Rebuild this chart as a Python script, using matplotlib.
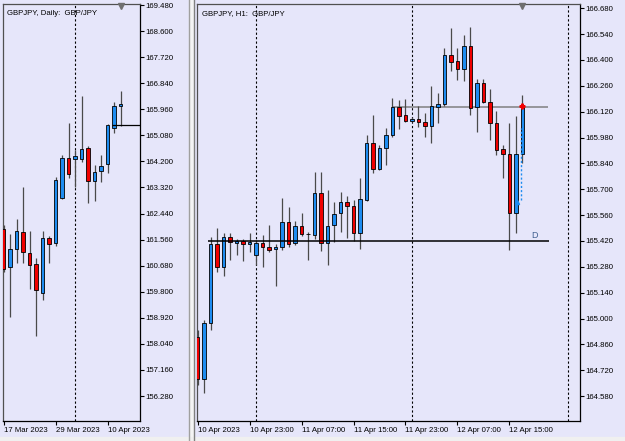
import numpy as np
import matplotlib.pyplot as plt
import matplotlib.transforms as mtransforms
from matplotlib.patches import Rectangle
from matplotlib.lines import Line2D

plt.rcParams['font.family'] = ['Liberation Sans', 'DejaVu Sans']

W, H = 625, 441
BG = "#E6E6FA"
BLUE = "#1E8CF0"
RED = "#F00000"

# GBPJPY daily, 17 Mar 2023 .. 12 Apr 2023
d_open = [161.93, 160.65, 161.25, 161.83, 161.12, 160.75, 159.77, 161.62, 161.46, 162.97,
          164.32, 164.29, 164.29, 164.66, 163.55, 163.88, 164.12, 165.33, 166.07]
d_high = [162.06, 161.76, 162.26, 163.34, 161.86, 160.95, 161.86, 161.69, 163.68, 164.42,
          165.50, 164.59, 166.41, 164.73, 164.08, 164.42, 165.47, 166.21, 166.58]
d_low = [160.48, 158.96, 160.78, 160.78, 159.90, 158.29, 159.53, 160.78, 161.35, 162.93,
         163.65, 163.34, 164.19, 162.80, 162.87, 163.51, 163.80, 165.16, 165.40]
d_close = [160.58, 161.25, 161.86, 161.15, 160.71, 159.87, 161.62, 161.42, 163.58, 164.32,
           163.78, 164.39, 164.62, 163.55, 163.85, 164.05, 165.43, 166.07, 166.13]
d_xticks = [0, 8, 16]
d_xlabels = ["17 Mar 2023", "29 Mar 2023", "10 Apr 2023"]
d_yticks = [156.28, 157.16, 158.04, 158.92, 159.80, 160.68, 161.56, 162.44,
            163.32, 164.20, 165.08, 165.96, 166.84, 167.72, 168.60, 169.48]
d_separator = 11          # 1 Apr month line
d_level = 165.42

# GBPJPY H1, 10 Apr 15:00 .. 12 Apr 17:00
h_open = [164.898, 164.670, 164.974, 165.402, 165.277, 165.440, 165.409, 165.419, 165.402, 165.344,
          165.407, 165.389, 165.375, 165.389, 165.521, 165.407, 165.502, 165.456, 165.454, 165.678,
          165.410, 165.506, 165.570, 165.629, 165.609, 165.464, 165.642, 165.949, 165.808, 165.922,
          165.994, 166.144, 166.102, 166.071, 166.080, 166.066, 166.044, 166.147, 166.160, 166.427,
          166.395, 166.350, 166.477, 166.144, 166.274, 166.174, 166.057, 165.916, 165.891, 165.573,
          165.891]
h_high = [164.937, 164.992, 165.443, 165.488, 165.463, 165.464, 165.432, 165.429, 165.464, 165.425,
          165.450, 165.508, 165.403, 165.652, 165.602, 165.529, 165.573, 165.470, 165.795, 165.792,
          165.696, 165.632, 165.687, 165.663, 165.642, 165.759, 165.994, 166.102, 165.939, 166.033,
          166.192, 166.183, 166.187, 166.091, 166.151, 166.114, 166.259, 166.220, 166.467, 166.572,
          166.467, 166.535, 166.577, 166.297, 166.297, 166.241, 166.125, 165.939, 166.057, 166.097,
          166.210]
h_low = [164.639, 164.596, 164.937, 165.253, 165.232, 165.317, 165.344, 165.311, 165.362, 165.289,
         165.277, 165.362, 165.176, 165.371, 165.389, 165.398, 165.447, 165.317, 165.429, 165.367,
         165.289, 165.416, 165.470, 165.434, 165.419, 165.375, 165.636, 165.786, 165.804, 165.831,
         165.984, 166.025, 166.066, 166.064, 166.039, 165.981, 165.952, 166.060, 166.151, 166.342,
         166.292, 166.286, 166.102, 166.008, 166.165, 165.967, 165.885, 165.759, 165.371, 165.461,
         165.844]
h_close = [164.670, 164.974, 165.402, 165.277, 165.441, 165.414, 165.421, 165.402, 165.414, 165.407,
           165.389, 165.372, 165.389, 165.521, 165.405, 165.502, 165.459, 165.458, 165.678, 165.410,
           165.502, 165.564, 165.629, 165.609, 165.464, 165.645, 165.949, 165.808, 165.922, 165.994,
           166.147, 166.097, 166.071, 166.080, 166.066, 166.044, 166.151, 166.160, 166.427, 166.391,
           166.351, 166.477, 166.142, 166.274, 166.172, 166.057, 165.912, 165.891, 165.573, 165.891,
           166.156]
h_xticks = [0, 8, 16, 24, 32, 40, 48]
h_xlabels = ["10 Apr 2023", "10 Apr 23:00", "11 Apr 07:00", "11 Apr 15:00",
             "11 Apr 23:00", "12 Apr 07:00", "12 Apr 15:00"]
h_yticks = [164.58, 164.72, 164.86, 165.00, 165.14, 165.28, 165.42, 165.56,
            165.70, 165.84, 165.98, 166.12, 166.26, 166.40, 166.54, 166.68]
h_separators = [9, 33, 57]   # day lines
h_level = 165.418
h_level_span = (1.6, 54.1)
h_bid = 166.147
h_bid_span = (29.9, 53.9)


def candles(ax, o, h, l, c, width=0.58):
    o, h, l, c = map(np.asarray, (o, h, l, c))
    x = np.arange(len(o))
    up = c >= o
    ax.vlines(x, l, h, color="#4a4a4a", lw=0.9, zorder=2)
    ax.bar(x, np.maximum(np.abs(c - o), 1e-6), bottom=np.minimum(o, c), width=width,
           color=np.where(up, BLUE, RED), edgecolor="black", linewidth=0.6, zorder=3)


def style(ax, xticks, xlabels, yticks, title, marker_x):
    ax.set_facecolor(BG)
    ax.yaxis.tick_right()
    ax.set_xticks(xticks)
    ax.set_xticklabels(xlabels)
    for lab in ax.get_xticklabels():
        lab.set_ha("left")
    ax.set_yticks(yticks)
    ax.set_yticklabels([f"{v:.3f}" for v in yticks])
    ax.tick_params(direction="out", length=3, width=0.8, labelsize=5.6, pad=1, colors="black")
    for s in ("right", "bottom"):
        ax.spines[s].set_color("black")
        ax.spines[s].set_linewidth(0.9)
    for s in ("left", "top"):
        ax.spines[s].set_color("#505050")
        ax.spines[s].set_linewidth(0.9)
    ax.text(0.03 if len(xticks) < 4 else 0.012, 0.985, title, transform=ax.transAxes,
            fontsize=5.6, ha="left", va="top")
    trans = mtransforms.blended_transform_factory(ax.transData, ax.transAxes)
    ax.plot([marker_x], [0.996], marker="v", color="#707070", markersize=4,
            transform=trans, clip_on=False, zorder=5)


fig = plt.figure(figsize=(W / 100, H / 100), dpi=100, facecolor=BG)

# left: daily
ax1 = fig.add_axes([3 / W, 20 / H, 137 / W, 417 / H])
candles(ax1, d_open, d_high, d_low, d_close)
ax1.axvline(d_separator, color="black", lw=0.8, ls=(0, (2, 2)), zorder=1)
ax1.hlines(d_level, 16.7, 21.0, color="black", lw=0.9, zorder=4)
ax1.set_xlim(-0.08, 21.0)
ax1.set_ylim(155.436, 169.514)
style(ax1, d_xticks, d_xlabels, d_yticks, "GBPJPY, Daily:  GBP/JPY", 18)

# right: H1
ax2 = fig.add_axes([197 / W, 20 / H, 383 / W, 417 / H])
candles(ax2, h_open, h_high, h_low, h_close)
for xs in h_separators:
    ax2.axvline(xs, color="black", lw=0.8, ls=(0, (2, 2)), zorder=1)
ax2.hlines(h_level, *h_level_span, color="black", lw=1.1, zorder=4)
ax2.hlines(h_bid, *h_bid_span, color="#808080", lw=1.1, zorder=1)
ax2.text(51.9, h_level + 0.008, "D", color="#3f5f8f", fontsize=6.5, ha="center", va="bottom")
ax2.vlines(49.7, 165.642, 166.032, color=BLUE, lw=1.0, ls=(0, (1.5, 1.5)), zorder=4)
ax2.plot([49.1], [165.632], marker="^", color=BLUE, markersize=3, zorder=5)
ax2.plot([50], [166.150], marker="P", color=RED, markersize=3.5, zorder=5)
ax2.set_xlim(-0.08, 58.85)
ax2.set_ylim(164.445, 166.703)
style(ax2, h_xticks, h_xlabels, h_yticks, "GBPJPY, H1:  GBP/JPY", 50)

# window chrome between and under the panels
fig.add_artist(Rectangle((189 / W, 0), 4 / W, 1, transform=fig.transFigure,
                         color="#F4F4F4", zorder=0))
for xp, col in ((188.5, "#A0A0A0"), (193.5, "#808080")):
    fig.add_artist(Line2D([xp / W, xp / W], [0, 1], transform=fig.transFigure,
                          color=col, lw=1.0))
fig.add_artist(Rectangle((0, 0), 1, 4 / H, transform=fig.transFigure,
                         color="#F0F0F0", zorder=0))

fig.savefig("out.png", dpi=100, facecolor=BG)
